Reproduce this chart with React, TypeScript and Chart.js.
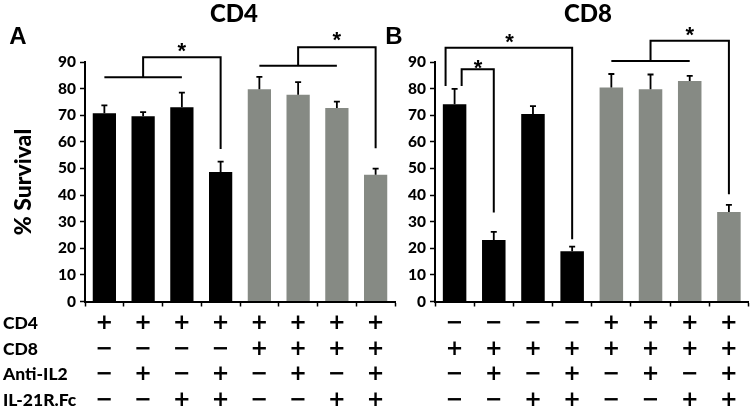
import React, { useEffect, useRef } from "react";
import { Chart, registerables } from "chart.js";

Chart.register(...registerables);

const categories = ["1", "2", "3", "4", "5", "6", "7", "8"];
const cd4Means = [70.7, 69.6, 73.0, 48.7, 79.8, 77.7, 72.7, 47.6];
const cd4Errors = [3.0, 1.6, 5.5, 3.9, 4.6, 4.7, 2.4, 2.3];
const cd8Means = [74.1, 23.1, 70.5, 18.9, 80.4, 79.8, 82.9, 33.6];
const cd8Errors = [5.8, 3.1, 2.9, 1.7, 5.1, 5.5, 1.9, 2.7];
const barColors = ["#000000", "#000000", "#000000", "#000000", "#868a84", "#868a84", "#868a84", "#868a84"];
const yTicks = [0, 10, 20, 30, 40, 50, 60, 70, 80, 90];
const rowLabels = ["CD4", "CD8", "Anti-IL2", "IL-21R.Fc"];
const cd4Table = [
  ["+", "+", "+", "+", "+", "+", "+", "+"],
  ["−", "−", "−", "−", "+", "+", "+", "+"],
  ["−", "+", "−", "+", "−", "+", "−", "+"],
  ["−", "−", "+", "+", "−", "−", "+", "+"],
];
const cd8Table = [
  ["−", "−", "−", "−", "+", "+", "+", "+"],
  ["+", "+", "+", "+", "+", "+", "+", "+"],
  ["−", "+", "−", "+", "−", "+", "−", "+"],
  ["−", "−", "+", "+", "−", "−", "+", "+"],
];
// brackets: segments as [categoryPosition, value] polylines, plus star position
const cd4Brackets = [
  { lines: [[[0, 84.3], [2, 84.3]], [[1, 84.3], [1, 91.8], [3, 91.8], [3, 57.3]]], star: [2, 95.8] },
  { lines: [[[4, 88.6], [6, 88.6]], [[5, 88.6], [5, 95.5], [7, 95.5], [7, 57.6]]], star: [6, 99.8] },
];
const cd8Brackets = [
  { lines: [[[-0.23, 81], [-0.23, 95.4], [3, 95.4], [3, 23.4]]], star: [1.4, 99] },
  { lines: [[[0.18, 81], [0.18, 87.3], [1, 87.3], [1, 33.4]]], star: [0.6, 89.3] },
  { lines: [[[4, 90.4], [6, 90.4]], [[5, 90.4], [5, 98], [7, 98], [7, 40.3]]], star: [6, 101.8] },
];

const FONT = "Lato, 'Open Sans', sans-serif";
const SYM_FONT = "'DejaVu Sans', 'Liberation Sans', sans-serif";
const STAR_FONT = "'Liberation Sans', Arial, sans-serif";

type Panel = {
  title: string;
  letter: string;
  titleX: number;
  letterX: number;
  letterY: number;
  means: number[];
  errors: number[];
  table: string[][];
  brackets: { lines: number[][][]; star: number[] }[];
  padLeft: number;
  padRight: number;
  showRowLabels: boolean;
};

const panelA: Panel = {
  title: "CD4",
  letter: "A",
  titleX: 234,
  letterX: 18,
  letterY: 37,
  means: cd4Means,
  errors: cd4Errors,
  table: cd4Table,
  brackets: cd4Brackets,
  padLeft: 40,
  padRight: 358,
  showRowLabels: true,
};

const panelB: Panel = {
  title: "CD8",
  letter: "B",
  titleX: 588,
  letterX: 394,
  letterY: 37,
  means: cd8Means,
  errors: cd8Errors,
  table: cd8Table,
  brackets: cd8Brackets,
  padLeft: 390,
  padRight: 4.5,
  showRowLabels: false,
};

function buildConfig(p: Panel): any {
  const overlay = {
    id: "overlay" + p.letter,
    afterDatasetsDraw(chart: any) {
      const ctx = chart.ctx;
      const xs = chart.scales.x;
      const ys = chart.scales.y;
      const area = chart.chartArea;
      ctx.save();
      // error bars
      ctx.strokeStyle = "#000";
      ctx.lineWidth = 1.8;
      p.means.forEach((m, i) => {
        const x = xs.getPixelForValue(i);
        const y0 = ys.getPixelForValue(m);
        const y1 = ys.getPixelForValue(m + p.errors[i]);
        ctx.beginPath();
        ctx.moveTo(x, y0);
        ctx.lineTo(x, y1);
        ctx.moveTo(x - 3, y1);
        ctx.lineTo(x + 3, y1);
        ctx.stroke();
      });
      // brackets
      ctx.lineWidth = 2;
      p.brackets.forEach((b) => {
        b.lines.forEach((pl) => {
          ctx.beginPath();
          pl.forEach((pt, k) => {
            const px = xs.getPixelForValue(pt[0]);
            const py = ys.getPixelForValue(pt[1]);
            if (k === 0) ctx.moveTo(px, py);
            else ctx.lineTo(px, py);
          });
          ctx.stroke();
        });
        ctx.fillStyle = "#000";
        ctx.font = `bold 22px ${STAR_FONT}`;
        ctx.textAlign = "center";
        ctx.textBaseline = "middle";
        ctx.fillText("*", xs.getPixelForValue(b.star[0]), ys.getPixelForValue(b.star[1]) + 5);
      });
      // titles
      ctx.fillStyle = "#000";
      ctx.textAlign = "center";
      ctx.textBaseline = "middle";
      ctx.font = `900 24px ${FONT}`;
      ctx.fillText(p.title, p.titleX, 14);
      ctx.font = `bold 24px Arial, 'Liberation Sans', sans-serif`;
      ctx.fillText(p.letter, p.letterX, p.letterY);
      // table
      const rowY0 = area.bottom + 22;
      const rowStep = 25.6;
      ctx.font = `bold 21px ${SYM_FONT}`;
      p.table.forEach((row, r) => {
        row.forEach((s, i) => {
          ctx.fillText(s, xs.getPixelForValue(i), rowY0 + r * rowStep);
        });
      });
      if (p.showRowLabels) {
        ctx.textAlign = "left";
        ctx.font = `900 17.5px ${FONT}`;
        rowLabels.forEach((l, r) => {
          ctx.fillText(l, 3, rowY0 + r * rowStep);
        });
        // y axis title
        ctx.save();
        ctx.translate(24, 182);
        ctx.rotate(-Math.PI / 2);
        ctx.textAlign = "center";
        ctx.font = `900 23px ${FONT}`;
        ctx.fillText("% Survival", 0, 0);
        ctx.restore();
      }
      ctx.restore();
    },
  };

  return {
    type: "bar",
    data: {
      labels: categories,
      datasets: [
        {
          data: p.means,
          backgroundColor: barColors,
          borderWidth: 0,
          categoryPercentage: 1,
          barPercentage: 0.6,
        },
      ],
    },
    options: {
      responsive: false,
      animation: false,
      layout: { padding: { left: p.padLeft, right: p.padRight, top: 62, bottom: 100.5 } },
      plugins: { legend: { display: false }, tooltip: { enabled: false }, title: { display: false } },
      scales: {
        x: {
          grid: { display: true, drawOnChartArea: false, drawTicks: true, tickLength: 5, tickColor: "#000", tickWidth: 1.5, offset: true },
          border: { display: true, color: "#000", width: 2 },
          ticks: { display: false },
          afterFit(scale: any) {
            scale.height = 10;
          },
        },
        y: {
          min: 0,
          max: 90,
          afterBuildTicks(scale: any) {
            scale.ticks = yTicks.map((v) => ({ value: v }));
          },
          grid: { display: true, drawOnChartArea: false, drawTicks: true, tickLength: 5, tickColor: "#000", tickWidth: 1.5 },
          border: { display: true, color: "#000", width: 2 },
          ticks: { color: "#000", padding: 4, font: { family: FONT, size: 15.5, weight: "900" } },
          afterFit(scale: any) {
            scale.width = 45;
          },
        },
      },
    },
    plugins: [overlay],
  };
}

export default function App() {
  const refA = useRef<HTMLCanvasElement>(null);
  const refB = useRef<HTMLCanvasElement>(null);
  useEffect(() => {
    const a = new Chart(refA.current as HTMLCanvasElement, buildConfig(panelA));
    const b = new Chart(refB.current as HTMLCanvasElement, buildConfig(panelB));
    return () => {
      a.destroy();
      b.destroy();
    };
  }, []);
  return (
    <div style={{ position: "fixed", left: 0, top: 0, width: 753, height: 412, background: "#fff" }}>
      <canvas ref={refA} width={753} height={412} style={{ position: "absolute", left: 0, top: 0 }} />
      <canvas ref={refB} width={753} height={412} style={{ position: "absolute", left: 0, top: 0 }} />
    </div>
  );
}
